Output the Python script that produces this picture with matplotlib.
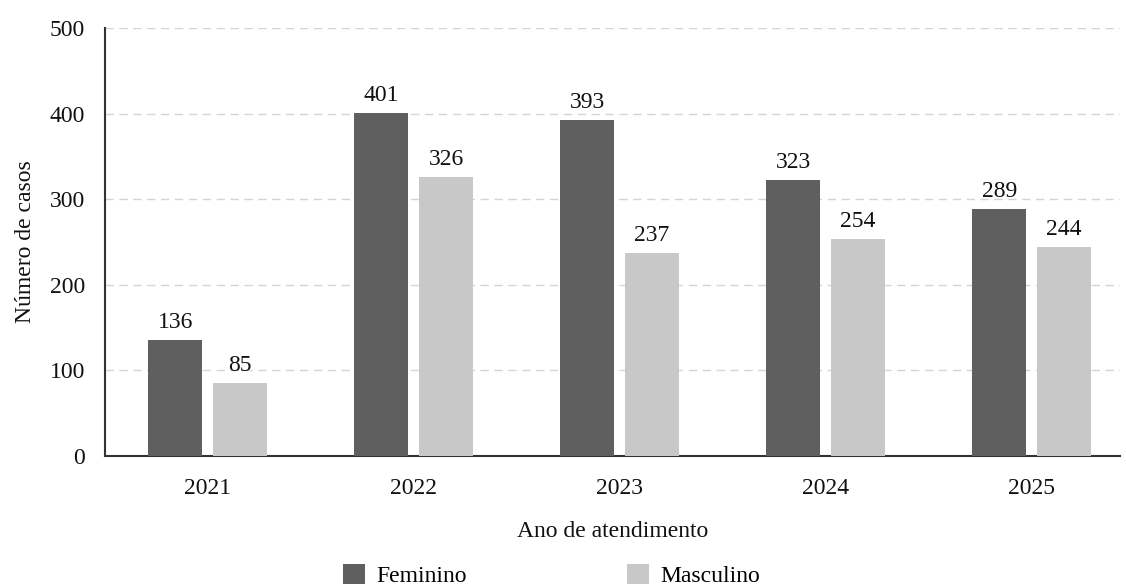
import matplotlib.pyplot as plt
import numpy as np

# Data
anos = ['2021', '2022', '2023', '2024', '2025']
feminino = [136, 401, 393, 323, 289]
masculino = [85, 326, 237, 254, 244]

plt.rcParams['font.family'] = ['Liberation Serif', 'DejaVu Serif']

fig = plt.figure(figsize=(11.26, 5.85), dpi=100)
ax = fig.add_axes([0.093, 0.2205, 0.902, 0.7315])

x = np.arange(len(anos))
w = 0.262
off = 0.157
b1 = ax.bar(x - off, feminino, w, color='#5f5f5f', label='Feminino', zorder=3)
b2 = ax.bar(x + off, masculino, w, color='#c8c8c8', label='Masculino', zorder=3)

for bars in (b1, b2):
    for bar in bars:
        h = bar.get_height()
        ax.annotate(str(int(h)), (bar.get_x() + bar.get_width() / 2, h),
                    xytext=(0, 5), textcoords='offset points',
                    ha='center', va='bottom', fontsize=17, color='#111111')

ax.set_xlim(-0.5, 4.43)
ax.set_ylim(0, 500)
ax.set_yticks([0, 100, 200, 300, 400, 500])
ax.set_xticks(x)
ax.set_xticklabels(anos)
ax.tick_params(axis='both', length=0, labelsize=17, colors='#111111')
ax.tick_params(axis='y', pad=14)
ax.tick_params(axis='x', pad=16)

ax.grid(axis='y', linestyle=(0, (6, 4)), color='#d4d4d4', linewidth=1, zorder=0)
for s in ['top', 'right']:
    ax.spines[s].set_visible(False)
for s in ['left', 'bottom']:
    ax.spines[s].set_color('#333333')
    ax.spines[s].set_linewidth(1.5)

ax.set_xlabel('Ano de atendimento', fontsize=17, labelpad=16, color='#111111')
ax.set_ylabel('Número de casos', fontsize=17, labelpad=10, color='#111111')

fig.legend(handles=[b1, b2], loc='lower center', bbox_to_anchor=(0.49, -0.04),
           ncol=2, frameon=False, fontsize=17, handlelength=0.9, handleheight=0.9,
           columnspacing=6.8, handletextpad=0.5)

plt.savefig('out.png', dpi=100)
